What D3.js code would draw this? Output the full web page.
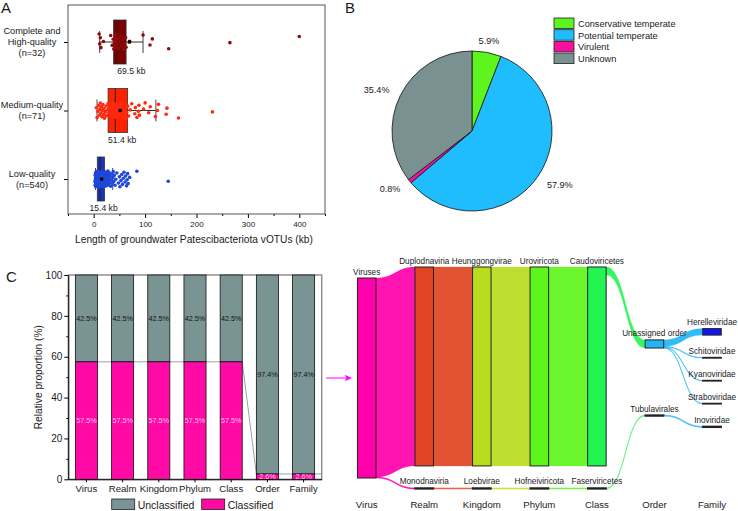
<!DOCTYPE html>
<html>
<head>
<meta charset="utf-8">
<script src="https://cdn.jsdelivr.net/npm/d3@7"></script>
<style>
body { margin: 0; background: #fff; }
svg { display: block; font-family: "Liberation Sans", Arial, sans-serif; }
</style>
</head>
<body>
<svg id="fig" width="738" height="511"></svg>
<script>
// ---------- data: panel A (genome length per quality tier) ----------
const qualityLabels = [["Complete and", "High-quality", "(n=32)"], ["Medium-quality", "(n=71)"], ["Low-quality", "(n=540)"]];
const boxQ1 = [38.8, 28, 7];
const boxMedian = [44, 42, 12];
const boxQ3 = [63, 66, 21];
const whiskerLow = [11.6, 6.5, 3.5];
const whiskerHigh = [96, 121, 37];
const meanLength = [69.5, 51.4, 15.4];
const lengthTicks = [0, 100, 200, 300, 400];

const completeLen = [10.5, 11.7, 13, 14, 19, 33, 36, 38, 39, 40, 41, 42, 43, 44, 45, 46, 48, 50, 52, 54, 56, 58,
  60, 62, 63, 70, 96, 109.5, 114, 145.8, 265, 400];
const mediumLen = [5, 6.6, 8, 9.7, 11, 12, 13, 14, 15, 16, 17, 18, 19.4, 20, 21, 22.7, 24, 25, 27,
  28, 29, 30, 32, 33, 34, 35, 36, 37, 38, 39, 40, 41, 42, 43, 44, 45, 46, 47, 48, 50, 52, 53, 54, 56, 57, 58, 60, 62, 63, 64, 66,
  68, 71, 74, 80, 81, 84, 87, 88, 89, 97, 100, 107, 110, 120, 124, 126, 141, 142.5, 165, 231];
const lowLen = [2.5, 3, 3, 3.2, 3.5, 3.8, 4, 4, 4.2, 4.5, 4.8, 5, 5, 5.2, 5.5, 5.8, 6, 6, 6.2, 6.5, 6.8, 7, 7, 7.2,
  7.5, 7.8, 8, 8, 8.3, 8.6, 9, 9, 9.3, 9.6, 10, 10, 10.4, 10.8, 11, 11, 11.5, 12, 12, 12.5, 13, 13, 13.5, 14, 14,
  14.5, 15, 15.5, 16, 16.5, 17, 17.5, 18, 18.5, 19, 19.5, 20, 20.5, 21, 21.5, 22, 22.5, 23, 23.5, 24, 24.5, 25,
  25.5, 26, 26.5, 27, 27.5, 28, 28.5, 29, 29.5, 30, 31, 32, 33, 34, 35, 36, 37, 38, 39, 40, 41.5, 43, 45, 48, 50,
  51, 53, 54.5, 56, 57.7, 59, 61, 62, 64, 65, 66, 67, 70, 84, 145];

// ---------- data: panel B (lifestyle) ----------
const lifestyle = ["Conservative temperate", "Potential temperate", "Virulent", "Unknown"];
const lifestylePct = [5.9, 57.9, 0.8, 35.4];

// ---------- data: panel C (taxonomy) ----------
const taxRanks = ["Virus", "Realm", "Kingdom", "Phylum", "Class", "Order", "Family"];
const classifiedPct = [57.5, 57.5, 57.5, 57.5, 57.5, 2.6, 2.6];
const unclassifiedPct = [42.5, 42.5, 42.5, 42.5, 42.5, 97.4, 97.4];

const nodeNames = ["Viruses", "Duplodnaviria", "Monodnaviria", "Heunggongvirae", "Loebvirae", "Uroviricota",
  "Hofneiviricota", "Caudoviricetes", "Faserviricetes", "Unassigned order", "Tubulavirales", "Herelleviridae",
  "Schitoviridae", "Kyanoviridae", "Straboviridae", "Inoviridae"];
const nodeRank = [0, 1, 1, 2, 2, 3, 3, 4, 4, 5, 5, 6, 6, 6, 6, 6];
const nodeCount = [370, 368, 2, 368, 2, 368, 2, 368, 2, 15, 2, 12, 1, 1, 1, 2];
const linkSource = [0, 0, 1, 2, 3, 4, 5, 6, 7, 8, 9, 9, 9, 9, 10];
const linkTarget = [1, 2, 3, 4, 5, 6, 7, 8, 9, 10, 11, 12, 13, 14, 15];
const linkCount = [368, 2, 368, 2, 368, 2, 368, 2, 15, 2, 12, 1, 1, 1, 2];

// ---------- styles ----------
const svg = d3.select("#fig");
const ink = "#1a1a1a";
const groupFill = ["#7b0000", "#ff2200", "#1c33b8"];
const groupDot = ["#8c0c0c", "#ff2a10", "#1f48d8"];
const lifeColor = ["#5ef51e", "#1fbdfd", "#f70fa0", "#7a9191"];
const barGrey = "#7a9494", barPink = "#ff0aa5";
const nodeColor = ["#ff00aa", "#e04422", "#f05a40", "#b8dc1e", "#c4e030", "#5ef51c", "#70f040", "#22f552",
  "#50f070", "#22b5f5", "#30b8f5", "#1414ee", "#22b5f5", "#22b5f5", "#22b5f5", "#22b5f5"];

function panelLetter(t, x, y) {
  svg.append("text").attr("x", x).attr("y", y).attr("font-size", 15).attr("fill", ink).text(t);
}
panelLetter("A", 1, 13);
panelLetter("B", 345, 13);
panelLetter("C", 6, 282);

// ================= Panel A =================
const gA = svg.append("g");
const xA = d3.scaleLinear().domain([-50, 450]).range([68, 325]);
const yA = d3.scalePoint().domain(d3.range(3)).range([42, 179]);
const frameA = { top: 5, bottom: 214 };
const boxH = 44;
const groupLen = [completeLen, mediumLen, lowLen];
const jit = i => ((i * 0.61803398875) % 1) * 2 - 1;

gA.append("g")
  .attr("transform", `translate(0,${frameA.bottom})`)
  .call(d3.axisBottom(xA).tickValues(d3.range(-50, 451, 100)).tickSize(2).tickFormat(""))
  .call(g => g.select(".domain").remove());
gA.append("g")
  .attr("transform", `translate(0,${frameA.bottom})`)
  .call(d3.axisBottom(xA).tickValues(lengthTicks).tickSize(4).tickPadding(3))
  .call(g => g.select(".domain").remove())
  .call(g => g.selectAll("text").attr("font-size", 8).attr("font-family", null).attr("fill", ink));
gA.append("g")
  .attr("transform", `translate(${xA.range()[0]},0)`)
  .call(d3.axisLeft(yA).tickSize(4).tickFormat(""))
  .call(g => g.select(".domain").remove());
gA.append("rect")
  .attr("x", xA.range()[0]).attr("y", frameA.top)
  .attr("width", xA.range()[1] - xA.range()[0]).attr("height", frameA.bottom - frameA.top)
  .attr("fill", "none").attr("stroke", "#444").attr("stroke-width", 0.9);

d3.range(3).forEach(g => {
  const cy = yA(g);
  const grp = gA.append("g");
  grp.append("line").attr("x1", xA(whiskerLow[g])).attr("x2", xA(whiskerHigh[g]))
    .attr("y1", cy).attr("y2", cy).attr("stroke", ink).attr("stroke-width", 0.9);
  [whiskerLow[g], whiskerHigh[g]].forEach(v => grp.append("line")
    .attr("x1", xA(v)).attr("x2", xA(v)).attr("y1", cy - boxH / 4).attr("y2", cy + boxH / 4)
    .attr("stroke", "#333").attr("stroke-width", 0.9));
  grp.append("rect").attr("x", xA(boxQ1[g])).attr("y", cy - boxH / 2)
    .attr("width", xA(boxQ3[g]) - xA(boxQ1[g])).attr("height", boxH)
    .attr("fill", groupFill[g]).attr("stroke", "#333").attr("stroke-width", 0.8);
  grp.append("line").attr("x1", xA(boxMedian[g])).attr("x2", xA(boxMedian[g]))
    .attr("y1", cy - boxH / 2).attr("y2", cy + boxH / 2).attr("stroke", "#222").attr("stroke-width", 1);
  grp.selectAll("circle.pt").data(groupLen[g]).join("circle").attr("class", "pt")
    .attr("cx", d => xA(d)).attr("cy", (d, i) => cy + jit(i + g * 7) * 8)
    .attr("r", 1.8).attr("fill", groupDot[g]);
  grp.append("rect").attr("x", xA(meanLength[g]) - 1.6).attr("y", cy - 1.6)
    .attr("width", 3.2).attr("height", 3.2).attr("fill", "#000");
  grp.append("text").attr("x", xA(meanLength[g]) + 2).attr("y", cy + boxH / 2 + 10)
    .attr("text-anchor", "middle").attr("font-size", 8.6).attr("fill", ink)
    .text(meanLength[g] + " kb");
  const lines = qualityLabels[g];
  lines.forEach((t, k) => gA.append("text")
    .attr("x", 32).attr("y", cy + (k - (lines.length - 1) / 2) * 11 + 3.2)
    .attr("text-anchor", "middle").attr("font-size", 9.2).attr("fill", ink).text(t));
});
gA.append("text").attr("x", 194).attr("y", 242.5).attr("text-anchor", "middle")
  .attr("font-size", 10.2).attr("fill", ink)
  .text("Length of groundwater Patescibacteriota vOTUs (kb)");

// ================= Panel B =================
const gB = svg.append("g").attr("transform", "translate(472,131)");
const pieR = 80;
const arcs = d3.pie().sort(null).value(d => d)(lifestylePct);
const arcGen = d3.arc().innerRadius(0).outerRadius(pieR);
gB.selectAll("path").data(arcs).join("path")
  .attr("d", arcGen).attr("fill", (d, i) => lifeColor[i])
  .attr("stroke", "#111").attr("stroke-width", 0.8);
gB.selectAll("text").data(arcs).join("text")
  .each(function (d) {
    const a = (d.startAngle + d.endAngle) / 2;
    const s = Math.sin(a);
    d3.select(this)
      .attr("x", s * 92).attr("y", -Math.cos(a) * 92)
      .attr("dy", "0.35em")
      .attr("text-anchor", Math.abs(s) < 0.3 ? "middle" : (s > 0 ? "start" : "end"));
  })
  .attr("font-size", 9.1).attr("fill", ink)
  .text(d => d.data.toFixed(1) + "%");

const legB = svg.append("g").attr("transform", "translate(554,18)");
lifestyle.forEach((name, i) => {
  legB.append("rect").attr("x", 0).attr("y", i * 11.7).attr("width", 20).attr("height", 10.5)
    .attr("fill", lifeColor[i]).attr("stroke", "#222").attr("stroke-width", 0.8);
  legB.append("text").attr("x", 24).attr("y", i * 11.7 + 8.8).attr("font-size", 9.2).attr("fill", ink).text(name);
});

// ================= Panel C: bars =================
const gC = svg.append("g");
const xC = d3.scaleBand().domain(taxRanks).range([68.3, 321.7]).paddingInner(0.39).paddingOuter(0.195);
const yC = d3.scaleLinear().domain([0, 100]).range([479.3, 275]);

gC.append("rect").attr("x", xC.range()[0]).attr("y", yC(100))
  .attr("width", xC.range()[1] - xC.range()[0]).attr("height", yC(0) - yC(100))
  .attr("fill", "none").attr("stroke", "#8a8a8a").attr("stroke-width", 1.4);

// connector lines behind bars
const iOrder = taxRanks.indexOf("Order");
gC.append("path")
  .attr("d", `M${xC(taxRanks[0]) + xC.bandwidth() / 2},${yC(classifiedPct[0])}` +
    `H${xC("Class") + xC.bandwidth()}` +
    `L${xC("Order")},${yC(classifiedPct[iOrder])}` +
    `H${xC.range()[1]}`)
  .attr("fill", "none").attr("stroke", "#777").attr("stroke-width", 0.7);

taxRanks.forEach((r, i) => {
  const x0 = xC(r), w = xC.bandwidth();
  gC.append("rect").attr("x", x0).attr("y", yC(100)).attr("width", w)
    .attr("height", yC(classifiedPct[i]) - yC(100))
    .attr("fill", barGrey).attr("stroke", "#111").attr("stroke-width", 0.8);
  gC.append("rect").attr("x", x0).attr("y", yC(classifiedPct[i])).attr("width", w)
    .attr("height", yC(0) - yC(classifiedPct[i]))
    .attr("fill", barPink).attr("stroke", "#111").attr("stroke-width", 0.8);
  gC.append("text").attr("x", x0 + w / 2).attr("y", yC(classifiedPct[i] + unclassifiedPct[i] / 2))
    .attr("dy", "0.35em").attr("text-anchor", "middle").attr("font-size", 7.2).attr("fill", "#111")
    .text(unclassifiedPct[i].toFixed(1) + "%");
  gC.append("text").attr("x", x0 + w / 2).attr("y", yC(classifiedPct[i] / 2))
    .attr("dy", "0.35em").attr("text-anchor", "middle").attr("font-size", 7.2).attr("fill", "#ffc8e6")
    .text(classifiedPct[i].toFixed(1) + "%");
});

gC.append("g").attr("transform", `translate(${xC.range()[0]},0)`)
  .call(d3.axisLeft(yC).tickValues(d3.range(10, 100, 20)).tickSize(2).tickFormat(""))
  .call(g => g.select(".domain").remove());
gC.append("g").attr("transform", `translate(${xC.range()[0]},0)`)
  .call(d3.axisLeft(yC).tickValues(d3.range(0, 101, 20)).tickSize(4).tickPadding(2).tickSizeOuter(0))
  .call(g => g.selectAll("text").attr("font-size", 10).attr("font-family", null).attr("fill", ink));
gC.append("g").attr("transform", `translate(0,${yC(0)})`)
  .call(d3.axisBottom(xC).tickSize(3).tickPadding(3).tickSizeOuter(0))
  .call(g => g.selectAll("text").attr("font-size", 9.6).attr("font-family", null).attr("fill", ink));
gC.append("text").attr("transform", `translate(42,${yC(50)}) rotate(-90)`)
  .attr("text-anchor", "middle").attr("font-size", 10.2).attr("fill", ink).text("Relative proportion (%)");

const legC = svg.append("g").attr("transform", "translate(111.7,499)");
[["Unclassified", barGrey], ["Classified", barPink]].forEach(([t, c], i) => {
  legC.append("rect").attr("x", i * 90).attr("y", 0).attr("width", 23).attr("height", 10.5)
    .attr("fill", c).attr("stroke", "#222").attr("stroke-width", 0.8);
  legC.append("text").attr("x", i * 90 + 26).attr("y", 9.5).attr("font-size", 10.5).attr("fill", ink).text(t);
});

// ================= Panel C: sankey =================
const gS = svg.append("g");
const xS = d3.scalePoint().domain(taxRanks).range([366.7, 712]);
const nodeW = 18.5;
const kS = 200 / nodeCount[0];
const sankeyMid = 378;
const colGap = [0, 22, 22, 22, 22, 67, 22.4];

const nodes = nodeNames.map((name, i) => ({ name, i, rank: nodeRank[i], h: nodeCount[i] * kS, out: 0, inn: 0 }));
taxRanks.forEach((r, c) => {
  const col = nodes.filter(n => n.rank === c);
  const total = d3.sum(col, n => n.h) + colGap[c] * (col.length - 1);
  let y = sankeyMid - total / 2;
  col.forEach(n => {
    n.y0 = y; n.y1 = y + n.h;
    n.x0 = xS(r) - nodeW / 2; n.x1 = xS(r) + nodeW / 2;
    y = n.y1 + colGap[c];
  });
});

function ribbon(x0, a0, b0, x1, a1, b1) {
  const xm = (x0 + x1) / 2;
  return `M${x0},${a0}C${xm},${a0} ${xm},${a1} ${x1},${a1}L${x1},${b1}C${xm},${b1} ${xm},${b0} ${x0},${b0}Z`;
}
linkCount.forEach((v, j) => {
  const s = nodes[linkSource[j]], t = nodes[linkTarget[j]];
  const w = v * kS;
  const sy = s.y0 + s.out, ty = t.y0 + t.inn;
  s.out += w; t.inn += w;
  gS.append("path")
    .attr("d", ribbon(s.x1, sy, sy + w, t.x0, ty, ty + w))
    .attr("fill", nodeColor[s.i]).attr("fill-opacity", 0.92)
    .attr("stroke", nodeColor[s.i]).attr("stroke-opacity", 0.7).attr("stroke-width", w < 3 ? 0.7 : 0.3);
});
gS.selectAll("rect.node").data(nodes).join("rect").attr("class", "node")
  .attr("x", d => d.x0).attr("y", d => d.y0).attr("width", nodeW).attr("height", d => d.h)
  .attr("fill", d => nodeColor[d.i]).attr("stroke", "#222").attr("stroke-width", d => d.h < 3 ? 1.3 : 1);
gS.selectAll("text.nlab").data(nodes).join("text").attr("class", "nlab")
  .attr("x", d => (d.x0 + d.x1) / 2).attr("y", d => d.y0 - 3.5)
  .attr("text-anchor", "middle").attr("font-size", 8.2).attr("fill", ink).text(d => d.name);
gS.selectAll("text.rank").data(taxRanks).join("text").attr("class", "rank")
  .attr("x", d => xS(d)).attr("y", 507.8)
  .attr("text-anchor", "middle").attr("font-size", 9.6).attr("fill", ink).text(d => d);

// arrow from bars to sankey
const arrowY = sankeyMid;
gS.append("line").attr("x1", 326).attr("x2", 349).attr("y1", arrowY).attr("y2", arrowY)
  .attr("stroke", "#ff00ff").attr("stroke-width", 1);
gS.append("path").attr("d", `M352,${arrowY}L344.5,${arrowY - 3.3}L346.5,${arrowY}L344.5,${arrowY + 3.3}Z`)
  .attr("fill", "#ff00ff");
</script>
</body>
</html>
